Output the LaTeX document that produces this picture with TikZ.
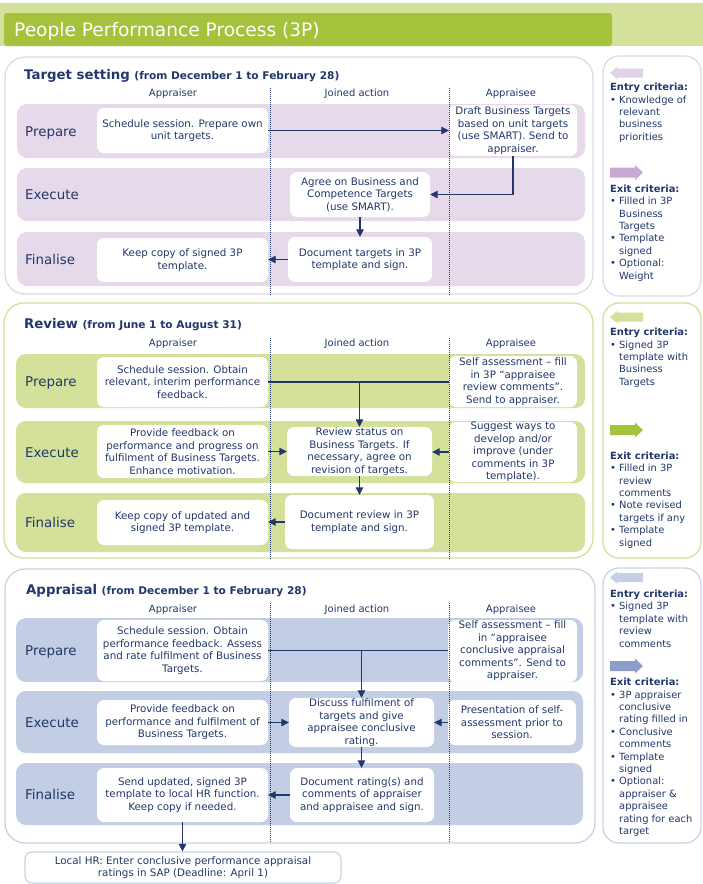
\documentclass[tikz,border=0pt]{standalone}
\usepackage{fontspec}
\setmainfont{DejaVu Sans}
\usetikzlibrary{arrows.meta}
\definecolor{navy}{HTML}{22376A}
\definecolor{lgreen}{HTML}{D3E19A}
\definecolor{dgreen}{HTML}{A4C23B}
\definecolor{bandP}{HTML}{E6D9EA}
\definecolor{brdP}{HTML}{E4D6EA}
\definecolor{arrPin}{HTML}{E2D2E8}
\definecolor{arrPout}{HTML}{C9A9D3}
\definecolor{bandG}{HTML}{D3E19A}
\definecolor{brdG}{HTML}{D3E19A}
\definecolor{arrGin}{HTML}{D3E19A}
\definecolor{arrGout}{HTML}{A4C23B}
\definecolor{bandB}{HTML}{C3CEE4}
\definecolor{brdB}{HTML}{C9D3E8}
\definecolor{arrBin}{HTML}{C5D0E6}
\definecolor{arrBout}{HTML}{8D9DCA}
\newcommand\mybox[6]{\node[box, minimum width={#4-#2}, minimum height={#5-#3}] (#1) at ({(#2+#4)/2},{(#3+#5)/2}) {#6};}
\newcommand\bul{\makebox[9pt][l]{•}}
\newcommand\ind{\hspace*{9pt}}
\newcommand\rarrow[4]{% color, x0, tip, yc
  \fill[#1] (#2,#4-5) -- (#3-8,#4-5) -- (#3-8,#4-7.5) -- (#3,#4) -- (#3-8,#4+7.5) -- (#3-8,#4+5) -- (#2,#4+5) -- cycle;}
\newcommand\larrow[4]{% color, tip, x1, yc
  \fill[#1] (#2,#4) -- (#2+7,#4-6) -- (#2+7,#4-4.5) -- (#3,#4-4.5) -- (#3,#4+4.5) -- (#2+7,#4+4.5) -- (#2+7,#4+6) -- cycle;}
\begin{document}
\begin{tikzpicture}[x=1pt,y=-1pt,
  box/.style={fill=white, rounded corners=7pt, inner sep=0pt, align=center, text=navy, font=\fontsize{10.3}{12.5}\selectfont},
  arr/.style={draw=navy, line width=1.1pt, -{Triangle[length=7.5pt,width=7.5pt]}},
  ln/.style={draw=navy, line width=1.1pt},
  dots/.style={draw=navy, line width=1pt, dash pattern=on 0.9pt off 1.1pt},
  lab/.style={anchor=base west, inner sep=0pt, text=navy, font=\fontsize{13.4}{15}\selectfont},
  colh/.style={anchor=base, inner sep=0pt, text=navy, font=\fontsize{10}{12}\selectfont},
  stitle/.style={anchor=base west, inner sep=0pt, text=navy, font=\bfseries\fontsize{13.3}{15}\selectfont},
  crit/.style={anchor=north west, align=left, inner sep=0pt, text=navy, font=\fontsize{9.9}{12.4}\selectfont},
  outer/.style={line width=1.3pt, rounded corners=20pt},
  panel/.style={line width=1.3pt, rounded corners=16pt},
  band/.style={rounded corners=10pt}
]
\useasboundingbox (0,0) rectangle (703,884);
% header
\fill[lgreen] (0,3) rectangle (703,46);
\fill[dgreen, rounded corners=3pt] (4,13) rectangle (612,46);
\node[anchor=west, inner sep=0pt, text=white, font=\fontsize{18.6}{20}\selectfont] (title) at (14,31) {People Performance Process (3P)};

% outer boxes
\draw[outer, draw=brdP] (5,57) rectangle (593,294);
\draw[outer, draw=brdG] (4,303) rectangle (593,558);
\draw[outer, draw=brdB] (5,569) rectangle (595,843);
% panels
\draw[panel, draw=brdP] (603,56) rectangle (701,296);
\draw[panel, draw=brdG] (603,303) rectangle (701,558);
\draw[panel, draw=brdB] (603,568) rectangle (701,843);

% bands
\fill[band, bandP] (17,104) rectangle (585,158);
\fill[band, bandP] (17,168) rectangle (585,221);
\fill[band, bandP] (17,232) rectangle (585,286);
\fill[band, bandG] (16,354) rectangle (585,408);
\fill[band, bandG] (16,421) rectangle (585,483);
\fill[band, bandG] (16,493) rectangle (585,552);
\fill[band, bandB] (16,618) rectangle (583,682);
\fill[band, bandB] (16,691) rectangle (583,753);
\fill[band, bandB] (16,763) rectangle (583,825);

% section titles
\node[stitle] (t1) at (24,79) {Target setting \fontsize{10.6}{12}\selectfont(from December 1 to February 28)};
\node[stitle] (t2) at (24,328.5) {Review \fontsize{10.6}{12}\selectfont(from June 1 to August 31)};
\node[stitle] (t3) at (26,594) {Appraisal \fontsize{10.6}{12}\selectfont(from December 1 to February 28)};

% column headers
\node[colh] (h1a) at (173,96.7) {Appraiser};
\node[colh] (h1j) at (357,96.7) {Joined action};
\node[colh] (h1e) at (511,96.7) {Appraisee};
\node[colh] (h2a) at (173,346.7) {Appraiser};
\node[colh] (h2j) at (357,346.7) {Joined action};
\node[colh] (h2e) at (511,346.7) {Appraisee};
\node[colh] (h3a) at (173,612.3) {Appraiser};
\node[colh] (h3j) at (357,612.3) {Joined action};
\node[colh] (h3e) at (511,612.3) {Appraisee};

% row labels
\node[lab] (l1p) at (25,136) {Prepare};
\node[lab] (l1e) at (25,199.5) {Execute};
\node[lab] (l1f) at (25,264) {Finalise};
\node[lab] (l2p) at (25,386) {Prepare};
\node[lab] (l2e) at (25,457) {Execute};
\node[lab] (l2f) at (25,527.5) {Finalise};
\node[lab] (l3p) at (25,655) {Prepare};
\node[lab] (l3e) at (25,727) {Execute};
\node[lab] (l3f) at (25,799) {Finalise};

% boxes section 1
\mybox{p1a}{97}{108}{268}{153}{Schedule session. Prepare own\\unit targets.}
\mybox{p1e}{449}{105}{577}{156}{Draft Business Targets\\based on unit targets\\(use SMART). Send to\\appraiser.}
\mybox{e1j}{290}{172}{430}{217}{Agree on Business and\\Competence Targets\\(use SMART).}
\mybox{f1j}{288}{237}{432}{282}{Document targets in 3P\\template and sign.}
\mybox{f1a}{97}{238}{268}{282}{Keep copy of signed 3P\\template.}
% boxes section 2
\mybox{p2a}{97}{357}{268}{407}{Schedule session. Obtain\\relevant, interim performance\\feedback.}
\mybox{p2e}{449}{356}{577}{407}{Self assessment – fill\\in 3P “appraisee\\review comments”.\\Send to appraiser.}
\mybox{e2a}{97}{425}{268}{478}{Provide feedback on\\performance and progress on\\fulfilment of Business Targets.\\Enhance motivation.}
\mybox{e2j}{287}{427}{432}{476}{Review status on\\Business Targets. If\\necessary, agree on\\revision of targets.}
\mybox{e2e}{449}{422}{577}{482}{Suggest ways to\\develop and/or\\improve (under\\comments in 3P\\template).}
\mybox{f2j}{285}{495}{434}{549}{Document review in 3P\\template and sign.}
\mybox{f2a}{97}{500}{268}{545}{Keep copy of updated and\\signed 3P template.}
% boxes section 3
\mybox{p3a}{97}{620}{268}{681}{Schedule session. Obtain\\performance feedback. Assess\\and rate fulfilment of Business\\Targets.}
\mybox{p3e}{448}{620}{577}{682}{Self assessment – fill\\in “appraisee\\conclusive appraisal\\comments”. Send to\\appraiser.}
\mybox{e3a}{97}{700}{268}{745}{Provide feedback on\\performance and fulfilment of\\Business Targets.}
\mybox{e3j}{289}{698}{434}{747}{Discuss fulfilment of\\targets and give\\appraisee conclusive\\rating.}
\mybox{e3e}{448}{700}{576}{745}{Presentation of self-\\assessment prior to\\session.}
\mybox{f3j}{290}{768}{434}{822}{Document rating(s) and\\comments of appraiser\\and appraisee and sign.}
\mybox{f3a}{97}{768}{268}{822}{Send updated, signed 3P\\template to local HR function.\\Keep copy if needed.}
\node[box, draw=brdB, line width=1.2pt, minimum width=316, minimum height=31] (hr) at (183,867.5) {Local HR: Enter conclusive performance appraisal\\ratings in SAP (Deadline: April 1)};

% dotted lines
\draw[dots] (270,88) -- (270,295);
\draw[dots] (449,88) -- (449,295);
\draw[dots] (270,338) -- (270,559);
\draw[dots] (449,338) -- (449,559);
\draw[dots] (270,603) -- (270,843);
\draw[dots] (449,603) -- (449,843);

% connectors section 1
\draw[arr] (p1a.east) -- (p1a.east -| p1e.west);
\draw[arr] (p1e.south) |- (e1j.east);
\draw[arr] (e1j.south) -- (e1j.south |- f1j.north);
\draw[arr] (f1j.west) -- (f1j.west -| f1a.east);
% connectors section 2
\draw[ln] (p2a.east) -- (p2a.east -| p2e.west);
\draw[arr] (e2j.north |- p2a.east) -- (e2j.north);
\draw[arr] (e2a.east) -- (e2a.east -| e2j.west);
\draw[arr] (e2e.west) -- (e2e.west -| e2j.east);
\draw[arr] (e2j.south) -- (e2j.south |- f2j.north);
\draw[arr] (f2j.west) -- (f2j.west -| f2a.east);
% connectors section 3
\draw[ln] (p3a.east) -- (p3a.east -| p3e.west);
\draw[arr] (e3j.north |- p3a.east) -- (e3j.north);
\draw[arr] (e3a.east) -- (e3a.east -| e3j.west);
\draw[arr] (e3e.west) -- (e3e.west -| e3j.east);
\draw[arr] (e3j.south) -- (e3j.south |- f3j.north);
\draw[arr] (f3j.west) -- (f3j.west -| f3a.east);
\draw[arr] (f3a.south) -- (f3a.south |- hr.north);

% panel arrows
\larrow{arrPin}{610}{643}{73}
\rarrow{arrPout}{610}{643}{172.5}
\larrow{arrGin}{610}{643}{317}
\rarrow{arrGout}{610}{643}{430}
\larrow{arrBin}{610}{643}{577.5}
\rarrow{arrBout}{610}{643}{666}

% panel texts
\node[crit] (c1in) at (610,83) {\textbf{Entry criteria:}\\\bul Knowledge of\\\ind relevant\\\ind business\\\ind priorities};
\node[crit] (c1out) at (610,184.5) {\textbf{Exit criteria:}\\\bul Filled in 3P\\\ind Business\\\ind Targets\\\bul Template\\\ind signed\\\bul Optional:\\\ind Weight};
\node[crit] (c2in) at (610,328) {\textbf{Entry criteria:}\\\bul Signed 3P\\\ind template with\\\ind Business\\\ind Targets};
\node[crit] (c2out) at (610,451.5) {\textbf{Exit criteria:}\\\bul Filled in 3P\\\ind review\\\ind comments\\\bul Note revised\\\ind targets if any\\\bul Template\\\ind signed};
\node[crit] (c3in) at (610,589.7) {\textbf{Entry criteria:}\\\bul Signed 3P\\\ind template with\\\ind review\\\ind comments};
\node[crit] (c3out) at (610,678) {\textbf{Exit criteria:}\\\bul 3P appraiser\\\ind conclusive\\\ind rating filled in\\\bul Conclusive\\\ind comments\\\bul Template\\\ind signed\\\bul Optional:\\\ind appraiser \&\\\ind appraisee\\\ind rating for each\\\ind target};
\end{tikzpicture}
\end{document}
